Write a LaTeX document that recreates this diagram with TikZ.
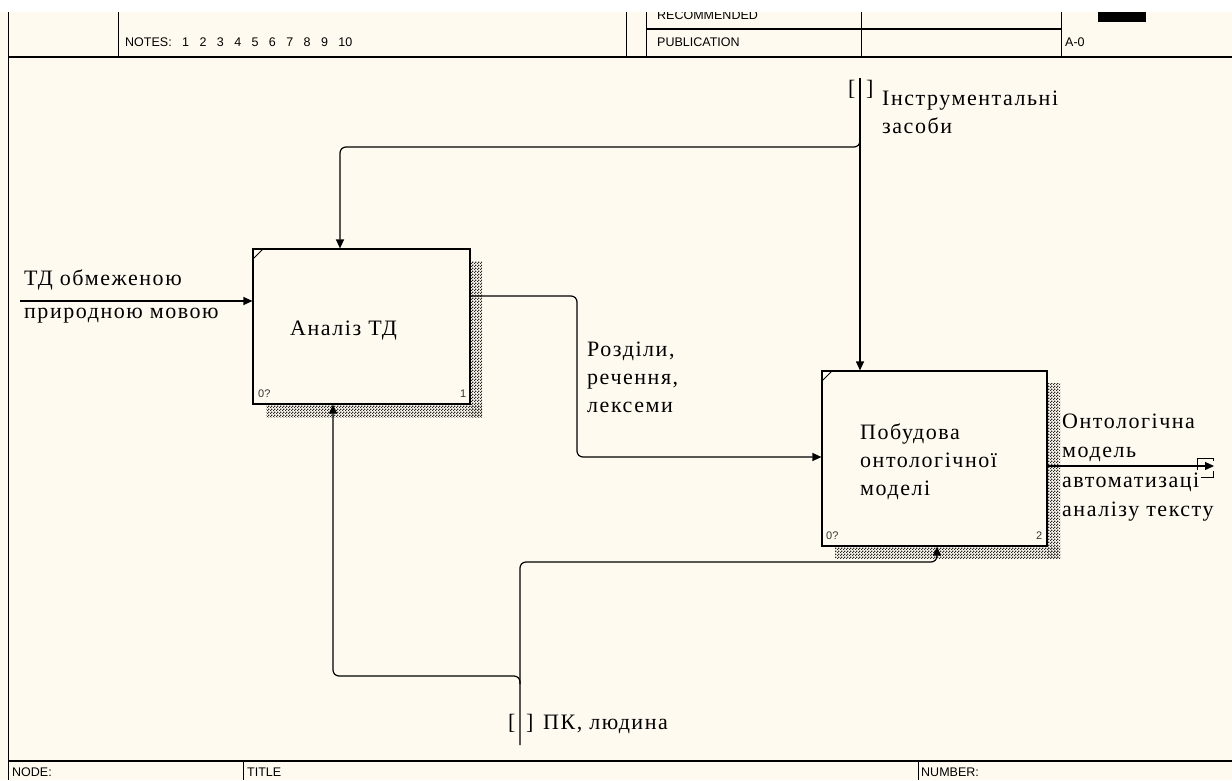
\documentclass[tikz,border=0pt]{standalone}
\usepackage{fontspec}
\setmainfont{Liberation Serif}
\newfontfamily\hdrfont{Liberation Sans}
\newfontfamily\lblfont[LetterSpace=7]{Liberation Serif}
\usetikzlibrary{arrows.meta,patterns}
\definecolor{cream}{RGB}{255,250,240}
\pgfdeclarepatternformonly{chk}{\pgfqpoint{0pt}{0pt}}{\pgfqpoint{3pt}{3pt}}{\pgfqpoint{3pt}{3pt}}{%
  \pgfpathrectangle{\pgfqpoint{0pt}{0pt}}{\pgfqpoint{1.5pt}{1.5pt}}%
  \pgfpathrectangle{\pgfqpoint{1.5pt}{1.5pt}}{\pgfqpoint{1.5pt}{1.5pt}}%
  \pgfusepath{fill}}
\tikzset{
  frame/.style={line width=1pt,draw=black},
  conn/.style={line width=1.2pt,rounded corners=6pt},
  arr/.style={conn,-{Triangle[length=9pt,width=8pt]}},
  lbl/.style={font=\lblfont\fontsize{22}{29}\selectfont,inner sep=0pt,anchor=base west},
  hdr/.style={font=\hdrfont\fontsize{12.5}{14}\selectfont,inner sep=0pt,anchor=base west},
  idnum/.style={font=\hdrfont\fontsize{11}{13}\selectfont,inner sep=0pt,anchor=base west,text=black!80},
  boxsh/.style={pattern=chk,pattern color=black!85},
  abox/.style={draw,line width=1.2pt,fill=cream,inner sep=0pt},
}
\begin{document}
\begin{tikzpicture}[x=1pt,y=-1pt]
\useasboundingbox (0,0) rectangle (1232,780);
\fill[cream] (0,0) rectangle (1232,780);
% header
\node[hdr] (notes) at (125,46) {NOTES:\ \ \ 1\ \ \ 2\ \ \ 3\ \ \ 4\ \ \ 5\ \ \ 6\ \ \ 7\ \ \ 8\ \ \ 9\ \ \ 10};
\node[hdr] (rec) at (657,19) {RECOMMENDED};
\node[hdr] (pub) at (657,46) {PUBLICATION};
\node[hdr] (anum) at (1065,46) {A-0};
\fill[white] (0,0) rectangle (1232,12);
\fill[black] (1098,12) rectangle (1146,22);
\draw[frame] (8,12) -- (8,780);
\draw[line width=2pt] (8,57) -- (1232,57);
\draw[frame] (118,12) -- (118,57);
\draw[frame] (626,12) -- (626,57);
\draw[frame] (646,12) -- (646,57);
\draw[frame] (861,12) -- (861,57);
\draw[frame] (1061,12) -- (1061,57);
\draw[line width=1.6pt] (646,29) -- (1061,29);
% footer
\draw[line width=2pt] (8,761) -- (1232,761);
\draw[frame] (243,761) -- (243,780);
\draw[frame] (918,761) -- (918,780);
\node[hdr] (nodef) at (12,776) {NODE:};
\node[hdr] (titlef) at (247,776) {TITLE};
\node[hdr] (numf) at (921,776) {NUMBER:};
% box 1
\fill[boxsh] (470,261) rectangle (482,417);
\fill[boxsh] (266,404) rectangle (482,417);
\node[abox,minimum width=217pt,minimum height=155pt] (b1) at (361.5,326.5) {};
\draw[line width=0.8pt] (253,259) -- (263,249);
\node[lbl] (b1t) at (290,335) {Аналіз ТД};
\node[idnum] (b1a) at (258,397) {0?};
\node[idnum] (b1b) at (460,397) {1};
% box 2
\fill[boxsh] (1047,383) rectangle (1060,558);
\fill[boxsh] (835,546) rectangle (1060,558);
\node[abox,minimum width=225pt,minimum height=175pt] (b2) at (934.5,458.5) {};
\draw[line width=0.8pt] (822,381) -- (832,371);
\node[lbl] (b2t1) at (860,439) {Побудова};
\node[lbl] (b2t2) at (860,467) {онтологічної};
\node[lbl] (b2t3) at (860,495) {моделі};
\node[idnum] (b2a) at (826,539) {0?};
\node[idnum] (b2b) at (1036,539) {2};
% coordinates
\coordinate (ctop) at (860,78);
\coordinate (cj) at (860,139);
\coordinate (iin) at (20,301);
\coordinate (mbot) at (520,745);
\coordinate (mj) at (520,684);
\coordinate (oend) at (1214,466);
% control
\draw[arr] (ctop) -- (b2.north -| ctop);
\draw[arr] (cj) -- (860,147) -- (340,147) -- (b1.north -| 340,0);
\node[lbl] (ctl1) at (882,105) {Інструментальні};
\node[lbl] (ctl2) at (882,133) {засоби};
\node[lbl] (cb1) at (848,95) {[};
\node[lbl] (cb2) at (866,95) {]};
% input
\draw[arr] (iin) -- (iin -| b1.west);
\node[lbl] (inl1) at (24,285) {ТД обмеженою};
\node[lbl] (inl2) at (24,318) {природною мовою};
% box1 -> box2
\draw[arr] (b1.east |- 0,296) -- (577,296) -- (577,457) -- (b2.west |- 0,457);
\node[lbl] (o1l1) at (587,356) {Розділи,};
\node[lbl] (o1l2) at (587,384) {речення,};
\node[lbl] (o1l3) at (587,412) {лексеми};
% mechanism
\draw[arr] (mbot) -- (520,562) -- (937,562) -- (b2.south -| 937,0);
\draw[arr] (mj) -- (520,676) -- (333,676) -- (b1.south -| 333,0);
\node[lbl] (mb1) at (508,729) {[};
\node[lbl] (mb2) at (526,729) {]};
\node[lbl] (ml) at (543,729) {ПК, людина};
% output
\draw[arr] (b2.east |- oend) -- (oend);
\draw[line width=1pt] (1197,470) -- (1197,458) -- (1213,458) -- (1213,461);
\draw[line width=1pt] (1213,471) -- (1213,477) -- (1201,477);
\node[lbl] (outl1) at (1062,428) {Онтологічна};
\node[lbl] (outl2) at (1062,457) {модель};
\node[lbl] (outl3) at (1062,487) {автоматизаці};
\node[lbl] (outl4) at (1062,516) {аналізу тексту};
\end{tikzpicture}
\end{document}
